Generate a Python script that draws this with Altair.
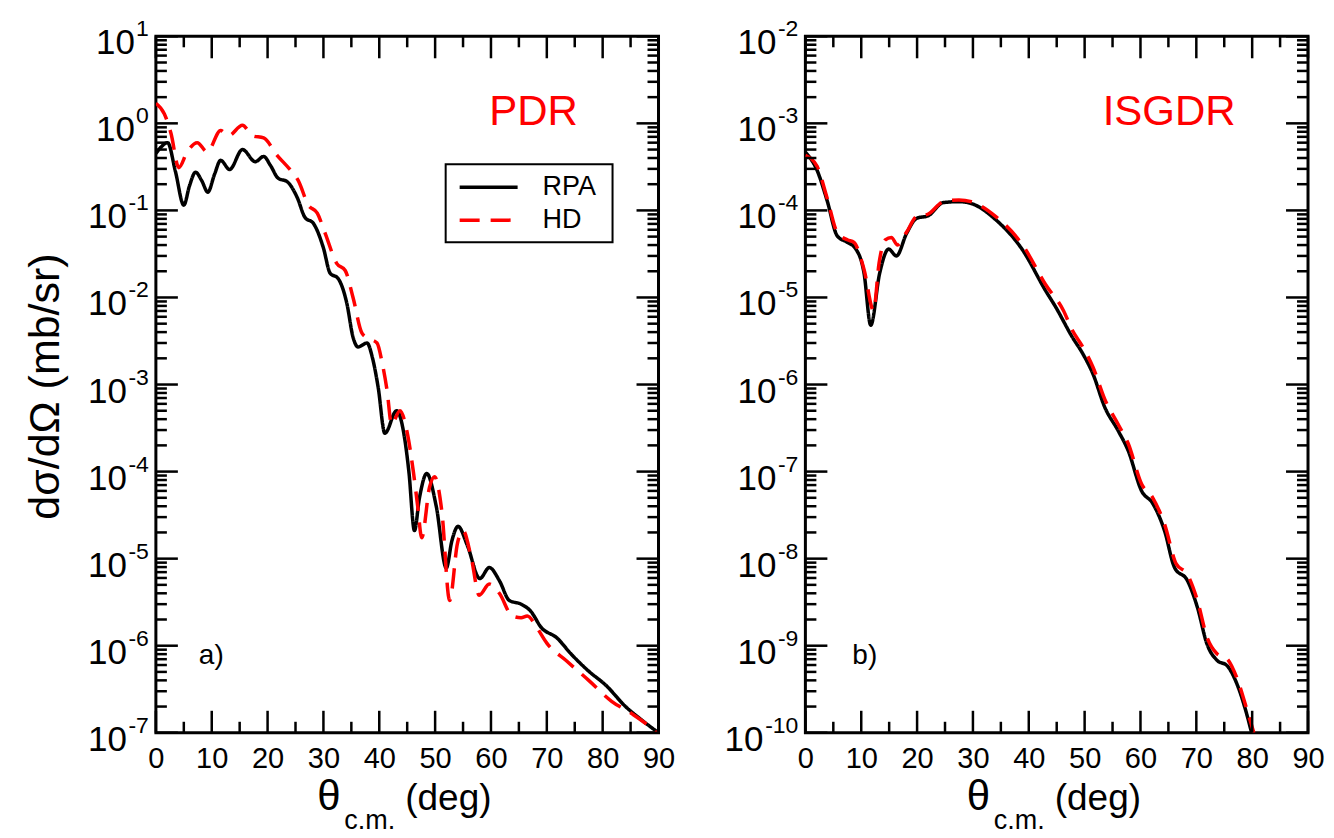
import altair as alt
import pandas as pd

# ---------------- data ----------------
pdr_rpa_theta = [0, 1, 2.1, 3.5, 5.0, 6.0, 7.1, 8.2, 9.3, 10.5, 11.6, 13.2, 15.5, 17.8, 19.3, 20.5,
                 21.9, 23.5, 25.3, 26.7, 28.2, 30.0, 31.2, 32.6, 34.2, 35.3, 36.2, 37.8, 38.8, 39.8,
                 41.0, 43.1, 44.5, 45.3, 46.3, 47.2, 48.5, 50.2, 52.0, 53.0, 54.1, 55.8, 58.0, 59.7,
                 61.5, 63.3, 65.4, 67.1, 69.0, 71.8, 74.3, 77.5, 80.6, 84.1, 87.0, 90.0]
pdr_rpa_val = [0.45, 0.54, 0.60, 0.28, 0.115, 0.19, 0.275, 0.22, 0.162, 0.26, 0.376, 0.295, 0.50, 0.363,
               0.417, 0.33, 0.234, 0.214, 0.141, 0.083, 0.071, 0.037, 0.019, 0.0166, 0.0085, 0.0035,
               0.0027, 0.0030, 0.0020, 9.3e-4, 2.75e-4, 5.0e-4, 2.5e-4, 1.0e-4, 2.1e-5, 5.0e-5, 9.5e-5,
               4.0e-5, 7.8e-6, 1.6e-5, 2.35e-5, 1.4e-5, 5.9e-6, 7.9e-6, 5.6e-6, 3.3e-6, 3.0e-6, 2.5e-6,
               1.62e-6, 1.23e-6, 8.1e-7, 5.1e-7, 3.5e-7, 2.0e-7, 1.4e-7, 1.0e-7]

pdr_hd_theta = [0, 1.5, 2.7, 4.1, 5.6, 7.4, 9.2, 11.6, 13.0, 15.5, 17.3, 19.3, 21.7, 24.1, 25.5, 27.3,
                28.9, 30.3, 32.4, 33.9, 35.3, 36.9, 38.0, 39.6, 40.5, 41.4, 42.2, 43.7, 45.0, 46.1,
                46.9, 47.6, 49.0, 49.9, 51.2, 52.6, 54.0, 55.0, 56.5, 57.9, 59.7, 61.5, 63.8, 65.4,
                66.5, 68.3, 70.0, 73.4, 77.5, 81.6, 85.2, 88.8, 90.0]
pdr_hd_val = [1.7, 1.29, 0.77, 0.31, 0.47, 0.60, 0.47, 0.83, 0.72, 0.95, 0.72, 0.68, 0.43, 0.29, 0.22,
              0.115, 0.093, 0.055, 0.0245, 0.0204, 0.010, 0.0039, 0.0034, 0.0030, 0.0018, 8.5e-4,
              3.5e-4, 5.0e-4, 2.8e-4, 1.0e-4, 3.9e-5, 1.74e-5, 6.6e-5, 8.7e-5, 3.5e-5, 3.3e-6, 1.5e-5,
              2.1e-5, 1.0e-5, 3.8e-6, 5.1e-6, 4.0e-6, 2.2e-6, 2.1e-6, 2.2e-6, 1.58e-6, 1.07e-6,
              6.8e-7, 4.0e-7, 2.3e-7, 1.66e-7, 1.12e-7, 9.5e-8]

isgdr_rpa_theta = [0, 2.1, 3.9, 5.7, 7.5, 8.9, 10.5, 11.7, 13.3, 14.9, 16.3, 18.1, 19.9, 22.0, 24.7,
                   27.5, 29.7, 34.1, 38.9, 43.0, 44.8, 47.8, 49.6, 51.5, 53.6, 56.0, 57.8, 60.2,
                   62.2, 64.3, 66.1, 68.4, 70.2, 71.9, 73.7, 75.5, 77.3, 79.0, 79.9]
isgdr_rpa_val = [4.68e-4, 2.88e-4, 1.29e-4, 5.1e-5, 4.3e-5, 3.7e-5, 1.9e-5, 4.8e-6, 1.9e-5, 3.6e-5,
                 3.0e-5, 5.4e-5, 8.1e-5, 8.7e-5, 1.23e-4, 1.26e-4, 1.20e-4, 7.8e-5, 3.5e-5, 1.2e-5,
                 7.8e-6, 3.5e-6, 2.3e-6, 1.32e-6, 5.5e-7, 2.95e-7, 1.74e-7, 6.0e-8, 4.3e-8, 2.1e-8,
                 7.9e-9, 5.6e-9, 2.75e-9, 1.05e-9, 6.8e-10, 5.9e-10, 3.6e-10, 1.66e-10, 1.0e-10]

isgdr_hd_theta = [0, 2.1, 3.9, 5.7, 7.5, 8.7, 10.5, 12.2, 13.2, 14.3, 15.4, 16.5, 18.1, 19.9, 22.0,
                  24.7, 27.5, 29.7, 34.1, 38.9, 43.0, 46.2, 47.8, 49.6, 51.5, 53.6, 56.0, 57.8, 60.2,
                  62.2, 64.3, 66.4, 68.4, 70.2, 71.9, 73.7, 75.5, 77.3, 79.0, 80.3]
isgdr_hd_val = [4.3e-4, 3.2e-4, 1.38e-4, 5.6e-5, 4.6e-5, 4.3e-5, 2.1e-5, 7.1e-6, 2.5e-5, 4.6e-5,
                4.9e-5, 4.0e-5, 5.6e-5, 8.5e-5, 9.1e-5, 1.26e-4, 1.32e-4, 1.26e-4, 8.5e-5, 4.0e-5,
                1.41e-5, 7.1e-6, 4.2e-6, 2.75e-6, 1.58e-6, 6.8e-7, 3.5e-7, 2.1e-7, 7.2e-8, 5.0e-8,
                2.5e-8, 8.7e-9, 6.6e-9, 3.3e-9, 1.26e-9, 8.1e-10, 7.1e-10, 4.2e-10, 1.9e-10, 1.0e-10]

x_major = [0, 10, 20, 30, 40, 50, 60, 70, 80, 90]
x_minor = [5, 15, 25, 35, 45, 55, 65, 75, 85]

left_exps = ["1", "0", "-1", "-2", "-3", "-4", "-5", "-6", "-7"]
left_decades = [1e1, 1e0, 1e-1, 1e-2, 1e-3, 1e-4, 1e-5, 1e-6, 1e-7]
right_exps = ["-2", "-3", "-4", "-5", "-6", "-7", "-8", "-9", "-10"]
right_decades = [1e-2, 1e-3, 1e-4, 1e-5, 1e-6, 1e-7, 1e-8, 1e-9, 1e-10]
minor_mult = [2, 3, 4, 5, 6, 7, 8, 9]

series_names = ["RPA", "HD"]
series_colors = ["black", "red"]

# ---------------- layout ----------------
W, H = 503, 697
FONT = "Liberation Sans"
MAJ, MIN = 22, 11
ONE = alt.Data(values=[{"k": 0}])

XAXIS = alt.Axis(values=x_major, ticks=False, domain=False, grid=False,
                 labelFontSize=29, labelFont=FONT, labelColor="black",
                 labelPadding=12, labelFlush=False, title=None)


def minor_list(decades):
    out = []
    for d in decades[1:]:
        for m in minor_mult:
            out.append(d * m)
    return out


def panel(rpa_t, rpa_v, hd_t, hd_v, decades, exps, label, label_x, tag, tag_x, show_legend, show_ytitle):
    xs = alt.Scale(domain=[0, 90], nice=False, zero=False)
    ys = alt.Scale(type="log", domain=[min(decades), max(decades)], nice=False)

    df = pd.concat([
        pd.DataFrame({"t": rpa_t, "val": rpa_v, "model": "RPA"}),
        pd.DataFrame({"t": hd_t, "val": hd_v, "model": "HD"}),
    ])

    lines = alt.Chart(df).mark_line(interpolate="monotone", clip=True, strokeWidth=3.5).encode(
        x=alt.X("t:Q", scale=xs, axis=XAXIS),
        y=alt.Y("val:Q", scale=ys, axis=None),
        color=alt.Color("model:N", scale=alt.Scale(domain=series_names, range=series_colors), legend=None),
        strokeDash=alt.StrokeDash("model:N", scale=alt.Scale(domain=series_names, range=[[1, 0], [20, 11]]),
                                  legend=None),
    )

    tx_major = pd.DataFrame({"t": x_major})
    tx_minor = pd.DataFrame({"t": x_minor})
    ty_major = pd.DataFrame({"val": decades})
    ty_minor = pd.DataFrame({"val": minor_list(decades)})

    def xt(df_, L, top):
        return alt.Chart(df_).mark_rule(color="black", strokeWidth=2.5).encode(
            x=alt.X("t:Q", scale=xs, axis=XAXIS),
            y=alt.value(0 if top else H), y2=alt.value(L if top else H - L))

    def yt(df_, L, right):
        return alt.Chart(df_).mark_rule(color="black", strokeWidth=2.5).encode(
            y=alt.Y("val:Q", scale=ys, axis=None),
            x=alt.value(W if right else 0), x2=alt.value(W - L if right else L))

    ticks = [xt(tx_major, MAJ, False), xt(tx_major, MAJ, True), xt(tx_minor, MIN, False), xt(tx_minor, MIN, True),
             yt(ty_major, MAJ, False), yt(ty_major, MAJ, True), yt(ty_minor, MIN, False), yt(ty_minor, MIN, True)]

    # y tick labels: "10" + raised exponent
    lab = pd.DataFrame({"val": decades, "e": exps})
    lab["n"] = lab["e"].str.len()
    ylabels = []
    exp_right = -7
    for n, gap in [(1, 14), (2, 22), (3, 35)]:
        sub = lab[lab["n"] == n]
        if len(sub) == 0:
            continue
        ylabels.append(alt.Chart(sub).mark_text(align="right", baseline="middle", fontSize=35, font=FONT,
                                                 dy=7, color="black").encode(
            y=alt.Y("val:Q", scale=ys, axis=None), x=alt.value(exp_right - gap), text="lab:N"
        ).transform_calculate(lab="'10'"))
        ylabels.append(alt.Chart(sub).mark_text(align="right", baseline="middle", fontSize=23, font=FONT,
                                                 dy=-7, color="black").encode(
            y=alt.Y("val:Q", scale=ys, axis=None), x=alt.value(exp_right), text="e:N"))

    def txt(s, x, y, size, color="black", align="left", baseline="alphabetic", angle=0):
        kw = dict(text=s, fontSize=size, font=FONT, color=color, align=align, baseline=baseline)
        if angle:
            kw["angle"] = angle
        return alt.Chart(ONE).mark_text(**kw).encode(x=alt.value(x), y=alt.value(y))

    annos = [
        txt(label, label_x, 89, 42, color="red", align="center"),
        txt(tag, tag_x, 620, 28, baseline="middle"),
        txt("\u03b8", W / 2 - 90, H + 77, 42),
        txt("c.m.", W / 2 - 63, H + 96, 27),
        txt("(deg)", W / 2 - 2, H + 77, 37),
    ]
    if show_ytitle:
        annos.append(txt("d\u03c3/d\u03a9 (mb/sr)", -110, H / 2 + 2, 43, align="center", baseline="middle", angle=270))
    if show_legend:
        annos += [
            alt.Chart(ONE).mark_rect(fill="white", stroke="black", strokeWidth=2).encode(
                x=alt.value(290), x2=alt.value(457), y=alt.value(128), y2=alt.value(206)),
            alt.Chart(ONE).mark_rule(color="black", strokeWidth=3.5).encode(
                x=alt.value(304), x2=alt.value(362), y=alt.value(151)),
            alt.Chart(ONE).mark_rule(color="red", strokeWidth=3.5, strokeDash=[20, 11]).encode(
                x=alt.value(304), x2=alt.value(362), y=alt.value(184)),
            txt("RPA", 387, 151, 27, baseline="middle"),
            txt("HD", 387, 184, 27, baseline="middle"),
        ]

    return alt.layer(lines, *ticks, *ylabels, *annos).properties(width=W, height=H)


left = panel(pdr_rpa_theta, pdr_rpa_val, pdr_hd_theta, pdr_hd_val, left_decades, left_exps,
             "PDR", 378, "a)", 43, True, True)
right = panel(isgdr_rpa_theta, isgdr_rpa_val, isgdr_hd_theta, isgdr_hd_val, right_decades, right_exps,
              "ISGDR", 364, "b)", 47, False, False)

chart = alt.hconcat(left, right, spacing=46).properties(
    padding={"left": 15, "top": 8, "right": 0, "bottom": 0},
    background="white",
).configure_view(stroke="black", strokeWidth=3)

chart.save("out.html", embed_options={"renderer": "svg", "actions": False})
